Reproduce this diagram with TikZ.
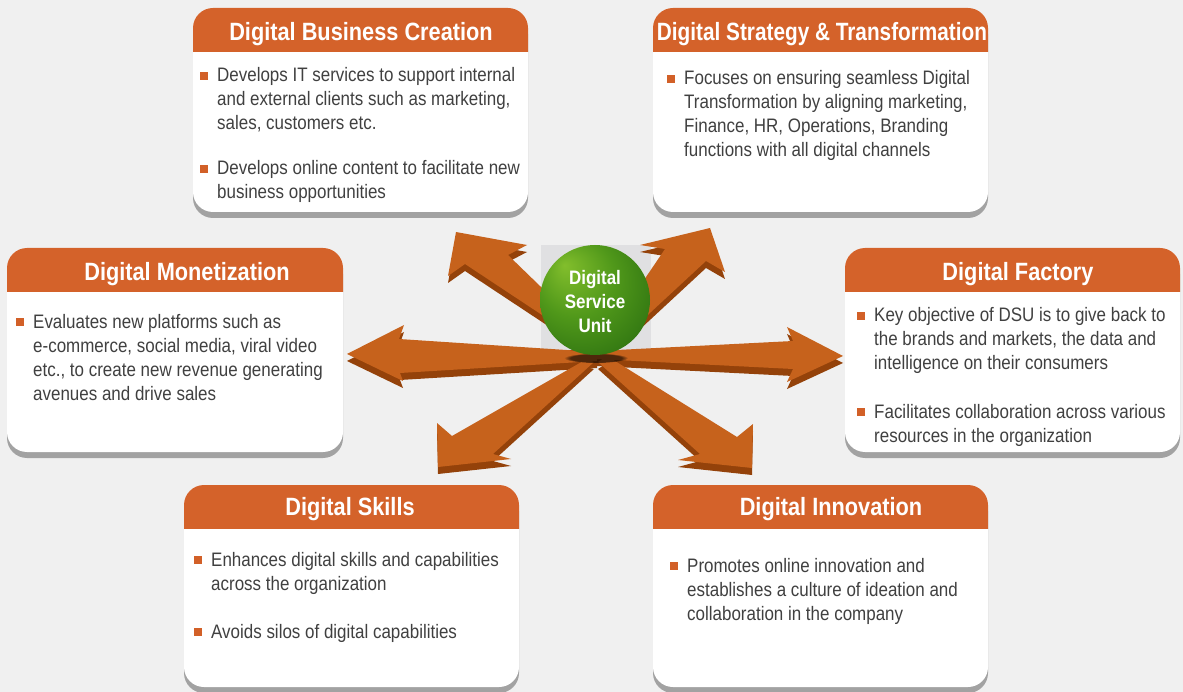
\documentclass[tikz,border=0pt]{standalone}
\usepackage{fontspec}
\setmainfont{Liberation Sans}[FakeStretch=0.87]
\usetikzlibrary{fadings}

\definecolor{bgc}{RGB}{240,240,240}
\definecolor{headc}{RGB}{212,98,42}
\definecolor{textc}{RGB}{64,64,64}
\definecolor{bulc}{RGB}{210,96,40}
\definecolor{shadc}{RGB}{162,162,162}
\definecolor{arrowc}{RGB}{198,98,28}
\definecolor{arrowside}{RGB}{148,66,10}
\definecolor{sqc}{RGB}{224,224,226}
\definecolor{sqedge}{RGB}{165,40,8}
\definecolor{ballhi}{RGB}{130,190,44}
\definecolor{ballmid}{RGB}{80,152,26}
\definecolor{balllo}{RGB}{42,110,16}
\definecolor{ballrim}{RGB}{90,150,34}

\pgfdeclareradialshading{dsuball}{\pgfpoint{-14bp}{16bp}}{color(0bp)=(ballhi); color(18bp)=(ballmid); color(38bp)=(balllo); color(47bp)=(balllo); color(50bp)=(ballrim)}

\tikzset{
	panelshadow/.style={fill=shadc, rounded corners=20pt},
	panelbody/.style={fill=white, rounded corners=20pt},
	panelhead/.style={fill=headc, rounded corners=20pt},
	paneltitle/.style={anchor=base, text=white, inner sep=0pt, font=\fontsize{25}{30}\selectfont\bfseries},
	paneltext/.style={anchor=base west, text=textc, align=left, inner sep=0pt, font=\fontsize{19.5}{24}\selectfont},
	bulletsq/.style={fill=bulc, minimum size=8pt, inner sep=0pt, anchor=south west},
	arrowtop/.style={fill=arrowc},
	arrowface/.style={fill=arrowside, yshift=-7pt},
}

% x0, y0, x1, y1, bottom of header
\newcommand{\dsupanel}[5]{
	\fill[panelshadow] (#1,#2+6) rectangle (#3,#4+6);
	\fill[panelbody] (#1,#2) rectangle (#3,#4);
	\begin{scope}
		\clip (#1,#2) rectangle (#3,#5);
		\fill[panelhead] (#1,#2) rectangle (#3,#4);
	\end{scope}
}

% name, x, first baseline, number of lines, text
\newcommand{\dsubullet}[5]{
	\node[bulletsq] (#1-sq) at (#2-17,#3-1.5) {};
	\node[paneltext] (#1) at (#2,#3+24*#4-24) {#5};
}

% outline of one 3d arrow
\newcommand{\dsuarrow}[1]{
	\fill[arrowface] #1 -- cycle;
	\fill[arrowtop] #1 -- cycle;
}

\begin{document}
\begin{tikzpicture}[x=1pt, y=-1pt]
	\fill[bgc] (0,0) rectangle (1183,692);
	\useasboundingbox (0,0) rectangle (1183,692);

	% panels
	\dsupanel{193}{8}{528}{212}{52}
	\node[paneltitle] (create-title) at (361,41) {Digital Business Creation};
	\dsubullet{create-a}{217}{81.5}{3}{Develops IT services to support internal\\and external clients such as marketing,\\sales, customers etc.}
	\dsubullet{create-b}{217}{175}{2}{Develops online content to facilitate new\\business opportunities}

	\dsupanel{653}{8}{988}{212}{52}
	\node[paneltitle] (strategy-title) at (822,41) {\scalebox{0.955}[1]{Digital Strategy \& Transformation}};
	\dsubullet{strategy-a}{684}{84.5}{4}{Focuses on ensuring seamless Digital\\Transformation by aligning marketing,\\Finance, HR, Operations, Branding\\functions with all digital channels}

	\dsupanel{7}{248}{343}{452}{292}
	\node[paneltitle] (monetize-title) at (187,281) {Digital Monetization};
	\dsubullet{monetize-a}{33}{328}{4}{Evaluates new platforms such as\\e-commerce, social media, viral video\\etc., to create new revenue generating\\avenues and drive sales}

	\dsupanel{845}{248}{1180}{452}{292}
	\node[paneltitle] (factory-title) at (1018,281) {Digital Factory};
	\dsubullet{factory-a}{874}{322}{3}{Key objective of DSU is to give back to\\the brands and markets, the data and\\intelligence on their consumers}
	\dsubullet{factory-b}{874}{418}{2}{Facilitates collaboration across various\\resources in the organization}

	\dsupanel{184}{485}{519}{687}{528}
	\node[paneltitle] (skills-title) at (350,515) {Digital Skills};
	\dsubullet{skills-a}{211}{566}{2}{Enhances digital skills and capabilities\\across the organization}
	\dsubullet{skills-b}{211}{638}{1}{Avoids silos of digital capabilities}

	\dsupanel{653}{485}{988}{687}{528}
	\node[paneltitle] (innovate-title) at (831,515) {Digital Innovation};
	\dsubullet{innovate-a}{687}{572}{3}{Promotes online innovation and\\establishes a culture of ideation and\\collaboration in the company}

	% centre
	\fill[sqc] (541,245) rectangle (651,355);
	\fill[sqedge] (541,350) rectangle (651,356);

	\dsuarrow{(604,356) -- (465,264) -- (448,276) -- (456,232) -- (527,245) -- (508,255) -- (606,350)}
	\dsuarrow{(600,345) -- (665,249) -- (640,245) -- (710,228) -- (725,272) -- (706,261) -- (610,350)}
	\dsuarrow{(597,352) -- (399,339) -- (404,325) -- (347,354) -- (403,381) -- (400,373) -- (597,361)}
	\dsuarrow{(597,351) -- (793,341) -- (787,327) -- (843,356) -- (787,382) -- (793,369) -- (597,359)}
	\dsuarrow{(585,360) -- (452,436) -- (437,423) -- (438,467) -- (511,459) -- (493,454) -- (594,362)}
	\dsuarrow{(607,356) -- (737,437) -- (753,424) -- (752,468) -- (678,460) -- (700,454) -- (598,362)}

	\fill[black, fill opacity=0.6, path fading=circle with fuzzy edge 20 percent] (596,358) ellipse (32pt and 5pt);
	\node[circle, minimum size=110pt, inner sep=0pt, shading=dsuball] (dsu) at (595,300) {};
	\node[text=white, align=center, font=\fontsize{19.5}{24}\selectfont\bfseries] (dsu-label) at (595,302) {Digital\\Service\\Unit};
\end{tikzpicture}
\end{document}
